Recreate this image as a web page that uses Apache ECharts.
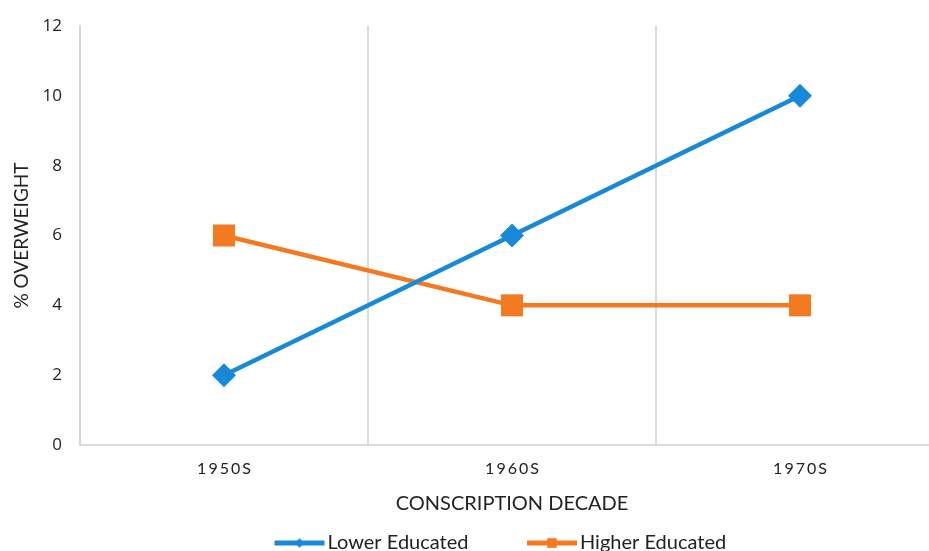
<!DOCTYPE html>
<html><head><meta charset="utf-8">
<script src="https://cdn.jsdelivr.net/npm/echarts@6/dist/echarts.min.js"></script>
<style>html,body{margin:0;padding:0;background:#fff}#c{width:929px;height:551px}</style>
</head><body><div id="c"></div>
<script>
const categories = ['1950S', '1960S', '1970S'];
const lowerEducated = [2, 6, 10];
const higherEducated = [6, 4, 4];
const yTicks = [0, 2, 4, 6, 8, 10, 12];

const chart = echarts.init(document.getElementById('c'));
chart.setOption({
  animation: false,
  grid: { left: 80, width: 864, top: 26, bottom: 106, outerBoundsMode: 'none', containLabel: false },
  xAxis: {
    type: 'category', data: categories, boundaryGap: true,
    name: 'CONSCRIPTION DECADE', nameLocation: 'middle', nameGap: 49,
    nameTextStyle: { fontFamily: 'Lato', fontSize: 20, color: '#222' },
    axisLine: { lineStyle: { color: '#d0d0d0', width: 1.5 } },
    axisTick: { show: false },
    axisLabel: { fontFamily: 'Lato', fontSize: 16, color: '#222', margin: 16,
      formatter: v => v.split('').join('\u2009') },
    splitLine: { show: true, lineStyle: { color: '#d0d0d0', width: 1.5 } }
  },
  yAxis: {
    type: 'value', min: 0, max: 12, interval: 2,
    name: '% OVERWEIGHT', nameLocation: 'middle', nameGap: 48, nameRotate: 90,
    nameTextStyle: { fontFamily: 'Lato', fontSize: 19, color: '#222' },
    axisLine: { show: true, lineStyle: { color: '#d0d0d0', width: 1.5 } },
    axisTick: { show: false },
    axisLabel: { fontFamily: 'Open Sans', fontSize: 17, color: '#222', margin: 18,
      formatter: v => yTicks.includes(v) ? String(v) : '' },
    splitLine: { show: false }
  },
  legend: {
    bottom: -7, left: 267, itemGap: 56, itemWidth: 50, itemHeight: 12,
    lineStyle: { width: 5 },
    textStyle: { fontFamily: 'Lato', fontSize: 20, color: '#222', padding: [0, 0, 0, -2] },
    data: ['Lower Educated', 'Higher Educated']
  },
  series: [
    { name: 'Higher Educated', type: 'line', data: higherEducated, z: 2,
      symbol: 'rect', symbolSize: 22,
      lineStyle: { color: '#f47a22', width: 4.5 }, itemStyle: { color: '#f47a22' } },
    { name: 'Lower Educated', type: 'line', data: lowerEducated, z: 3,
      symbol: 'diamond', symbolSize: [24, 24],
      lineStyle: { color: '#1789d8', width: 4.5 }, itemStyle: { color: '#1789d8' } }
  ]
});
</script></body></html>
